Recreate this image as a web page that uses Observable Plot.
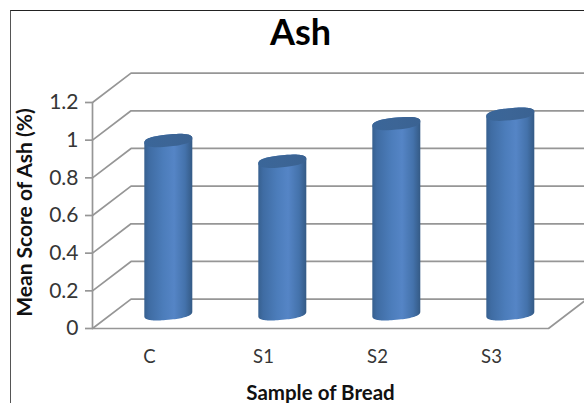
<!DOCTYPE html>
<html>
<head>
<meta charset="utf-8">
<script src="https://cdn.jsdelivr.net/npm/d3@7"></script>
<script src="https://cdn.jsdelivr.net/npm/@observablehq/plot@0.6"></script>
<style>
html,body{margin:0;padding:0;background:#fff;overflow:hidden}
#wrap{position:relative;width:584px;height:403px;overflow:hidden}
#frame{position:absolute;left:10px;top:10px;right:-5px;bottom:-5px;border-top:1.2px solid #222;border-left:1.2px solid #555;pointer-events:none}
svg{display:block}
</style>
</head>
<body>
<div id="wrap"><div id="frame"></div></div>
<script>
const categories = ["C", "S1", "S2", "S3"];
const values = [0.92, 0.81, 1.01, 1.06];
const yTicks = [0, 0.2, 0.4, 0.6, 0.8, 1, 1.2];
const titleText = "Ash";
const yLabel = "Mean Score of Ash (%)";
const xLabel = "Sample of Bread";

// Depth of the 3D box, in data units (one category wide, value units high)
const depthX = 0.33, depthY = 0.156;
const radiusX = 0.2105, radiusY = 0.032, tilt = 0.012;
const gridColor = "#969696";
const font = "Lato, Carlito, sans-serif";

const centers = categories.map((c, i) => i + 0.5 + depthX / 2);
const round = v => Math.sign(v) * Math.pow(Math.abs(v), 0.8);
const ellipse = (c, cy, from, to, n = 48) =>
  d3.range(n + 1).map(k => {
    const t = from + (to - from) * k / n;
    const ct = round(Math.cos(t)), st = round(Math.sin(t));
    return {x: c + radiusX * ct, y: cy + radiusY * st + tilt * ct};
  });

const bodies = categories.flatMap((cat, i) => {
  const cy = depthY / 2;
  const bottom = ellipse(centers[i], cy, 0, -Math.PI);
  const top = ellipse(centers[i], cy + values[i], Math.PI, 0);
  return [...bottom, ...top].map(p => ({...p, cat}));
});
const caps = categories.flatMap((cat, i) =>
  ellipse(centers[i], depthY / 2 + values[i], 0, 2 * Math.PI).map(p => ({...p, cat})));

const wall = yTicks.flatMap(v => [
  {v, x: 0, y: v},
  {v, x: 0.338, y: v + depthY},
  {v, x: 4.338, y: v + depthY}
]);

const defs = () => {
  const d = d3.create("svg:defs");
  const g = d.append("linearGradient").attr("id", "cyl").attr("x1", 0).attr("x2", 1).attr("y1", 0).attr("y2", 0);
  [[0, "#37608f"], [0.1, "#3f6ca3"], [0.4, "#4c7dbb"], [0.62, "#5585c6"], [0.85, "#4472ab"], [1, "#345a85"]]
    .forEach(([o, c]) => g.append("stop").attr("offset", o).attr("stop-color", c));
  const h = d.append("linearGradient").attr("id", "cap").attr("x1", 0).attr("x2", 1).attr("y1", 0).attr("y2", 0);
  [[0, "#3a6699"], [0.5, "#3c6596"], [1, "#3a6292"]]
    .forEach(([o, c]) => h.append("stop").attr("offset", o).attr("stop-color", c));
  return d.node();
};

const plot = Plot.plot({
  width: 584, height: 403,
  marginLeft: 92, marginRight: 36, marginTop: 102, marginBottom: 75,
  style: {background: "transparent", fontFamily: font},
  x: {domain: [0, 4], axis: null},
  y: {domain: [0, 1.2], axis: null},
  marks: [
    defs,
    Plot.line(wall, {x: "x", y: "y", z: "v", stroke: gridColor, strokeWidth: 1.7}),
    Plot.line([{x: 0, y: 0}, {x: 4, y: 0}, {x: 4.338, y: depthY}], {x: "x", y: "y", stroke: gridColor, strokeWidth: 1.7}),
    Plot.ruleX([0], {y1: 0, y2: 1.2, stroke: gridColor, strokeWidth: 1.7}),
    Plot.axisY(yTicks, {
      tickSize: 7, tickPadding: 7, stroke: gridColor, strokeWidth: 1.7,
      fontSize: 21, label: null, tickFormat: d => String(d), fill: "#363636"
    }),
    Plot.axisX(categories.map((c, i) => i + 0.5), {
      tickSize: 0, tickPadding: 21, fontSize: 18.5, label: null, fill: "#363636",
      tickFormat: (d, i) => categories[i]
    }),
    Plot.line(bodies, {x: "x", y: "y", z: "cat", fill: "url(#cyl)", stroke: "none"}),
    Plot.line(caps, {x: "x", y: "y", z: "cat", fill: "url(#cap)", stroke: "none"}),
    Plot.text([titleText], {frameAnchor: "top", dx: -20, dy: -83, fontSize: 36, fontWeight: 700, fill: "#000", lineAnchor: "top"}),
    Plot.text([xLabel], {frameAnchor: "bottom", dy: 71, fontSize: 20.5, fontWeight: 700, fill: "#111", lineAnchor: "bottom"}),
    Plot.text([yLabel], {frameAnchor: "left", dx: -67, dy: -3, rotate: -90, fontSize: 21, fontWeight: 700, fill: "#111", textAnchor: "middle"})
  ]
});
document.getElementById("wrap").prepend(plot);
</script>
</body>
</html>
